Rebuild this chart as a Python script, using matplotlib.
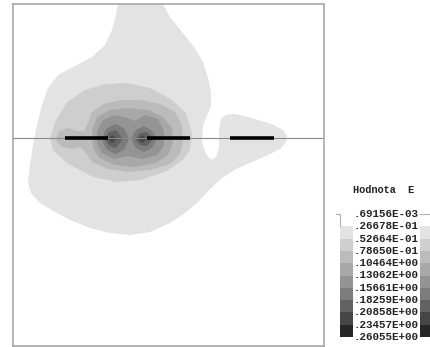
import matplotlib
matplotlib.use("Agg")
import matplotlib.pyplot as plt
from matplotlib.patches import Rectangle
import numpy as np

# field levels of E (legend boundaries)
levels = [0.69156e-03, 0.26678e-01, 0.52664e-01, 0.78650e-01, 0.10464e+00,
          0.13062e+00, 0.15661e+00, 0.18259e+00, 0.20858e+00, 0.23457e+00,
          0.26055e+00]
band_grey = [255, 227, 206, 187, 168, 148, 124, 98, 70, 38]
band_colors = [(g / 255, g / 255, g / 255) for g in band_grey]

# domain: x across, y = depth (downwards)
domain_w, domain_h = 311, 342
line_y = 134
electrodes = [(52, 95), (134, 177), (217, 261)]

# outlines of regions where E is above a level
band1 = [(105, 0), (103, 11), (99, 26), (92, 41), (79, 53), (62, 62), (45, 71),
         (35, 84), (29, 101), (24, 121), (20, 141), (17, 161), (15, 178),
         (18, 189), (27, 199), (42, 208), (57, 216), (77, 224), (97, 229),
         (117, 231), (137, 228), (157, 219), (172, 209), (185, 198), (197, 185),
         (209, 174), (223, 165), (239, 158), (255, 151), (267, 145), (273, 138),
         (274, 132), (270, 126), (261, 121), (249, 117), (235, 113), (222, 110),
         (213, 111), (208, 115), (206, 126), (206, 144), (203, 153), (198, 156),
         (193, 150), (189, 138), (190, 121), (194, 112), (198, 102), (198, 88),
         (195, 74), (190, 58), (181, 43), (169, 28), (157, 13), (150, 0)]
band2 = [(37, 134), (42, 118), (54, 98), (72, 86), (92, 80), (115, 79), (137, 84),
         (159, 96), (173, 109), (179, 129), (177, 146), (170, 156), (154, 167),
         (127, 176), (104, 178), (80, 173), (54, 159), (40, 146)]
band3 = [(74, 121), (79, 108), (91, 100), (107, 96), (127, 96), (147, 100),
         (162, 108), (169, 121), (170, 136), (167, 150), (157, 160), (137, 166),
         (115, 168), (95, 165), (79, 158), (73, 149), (67, 143), (59, 145),
         (49, 143), (43, 136), (46, 127), (54, 124), (64, 127), (71, 127)]
band4 = [(79, 126), (84, 113), (97, 106), (115, 104), (135, 106), (150, 113),
         (159, 124), (160, 138), (155, 151), (142, 159), (122, 163), (102, 161),
         (87, 154), (80, 144)]
band5 = [(84, 128), (89, 117), (101, 111), (115, 114), (122, 117), (132, 111),
         (145, 115), (151, 127), (151, 142), (144, 151), (129, 155), (115, 152),
         (101, 155), (89, 149), (84, 139)]
band6 = [[(89, 135), (93, 125), (102, 120), (111, 124), (116, 135), (111, 146),
          (102, 150), (93, 145)],
         [(118, 135), (123, 126), (131, 122), (139, 127), (144, 135), (139, 144),
          (131, 148), (123, 144)]]
band7 = [[(92, 135), (96, 128), (103, 126), (110, 135), (103, 144), (96, 142)],
         [(122, 135), (127, 129), (134, 128), (140, 135), (134, 142), (127, 141)]]
band8 = [[(95, 135), (99, 131), (104, 135), (99, 139)],
         [(125, 135), (129, 131), (134, 135), (129, 139)]]
regions = [[band1], [band2], [band3], [band4], [band5], band6, band7, band8]

W, H = 431, 347
fig = plt.figure(figsize=(W / 100, H / 100), dpi=100)
ax = fig.add_axes([13 / W, 1 / H, 311 / W, 342 / H])
ax.set_facecolor("white")
for k, polys in enumerate(regions, start=1):
    for poly in polys:
        p = np.array(poly, dtype=float)
        ax.fill(p[:, 0], p[:, 1], color=band_colors[k], lw=0)

ax.axhline(line_y, color="#8a8a8a", lw=0.8)
for x0, x1 in electrodes:
    ax.plot([x0, x1], [line_y, line_y], color="black", lw=2.6,
            solid_capstyle="butt")

ax.set_xlim(0, domain_w)
ax.set_ylim(domain_h, 0)
ax.set_xticks([])
ax.set_yticks([])
for s in ax.spines.values():
    s.set_color("#a8a8a8")
    s.set_linewidth(1.2)

# legend drawn in figure pixels
lg = fig.add_axes([0, 0, 1, 1], facecolor="none")
lg.set_xlim(0, W)
lg.set_ylim(H, 0)
lg.axis("off")
top, step = 214, 12.3
for i, c in enumerate(band_colors):
    y0 = top + i * step
    lg.add_patch(Rectangle((340, y0), 13, step, color=c, lw=0))
    lg.add_patch(Rectangle((420, y0), 12, step, color=c, lw=0))
lg.plot([336, 340, 340], [top, top, top + step], color="#b0b0b0", lw=0.8)
lg.plot([420, 431], [top, top], color="#b0b0b0", lw=0.8)
for i, v in enumerate(levels):
    m, e = f"{v:.4E}".split("E")
    lab = "." + m.replace(".", "") + f"E{int(e) + 1:+03d}"
    lg.text(354, top + i * step, lab, family="Liberation Mono", weight="bold",
            fontsize=7.8, va="center", ha="left", color="#222222")
lg.text(353, 190, "Hodnota  E", family="Liberation Mono", weight="bold",
        fontsize=7.4, va="center", ha="left", color="#222222")

fig.savefig("out.png", dpi=100)
